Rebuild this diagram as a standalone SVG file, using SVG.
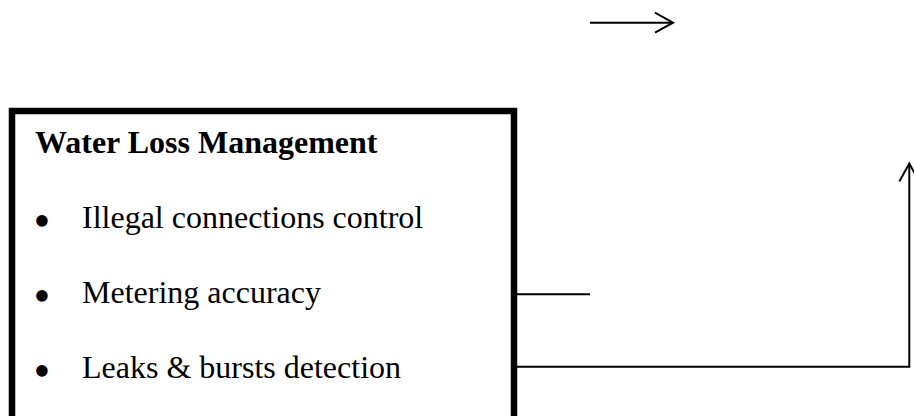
<svg xmlns="http://www.w3.org/2000/svg" width="914" height="416" viewBox="0 0 914 416">
<style>
  .box{fill:#fff;stroke:#000;stroke-width:6.5}
  .h{font-family:"Liberation Serif","Times New Roman",serif;font-size:32px;font-weight:bold;fill:#000}
  .t{font-family:"Liberation Serif","Times New Roman",serif;font-size:32px;fill:#000}
  .b{font-family:"Liberation Serif","Times New Roman",serif;font-size:48px;fill:#000;text-anchor:middle}
  .c{fill:none;stroke:#000;stroke-width:2}
</style>
<defs>
  <marker id="open" markerUnits="userSpaceOnUse" markerWidth="24" markerHeight="24" refX="18" refY="10" orient="auto" overflow="visible">
    <path d="M0,0 L18,10 L0,20" fill="none" stroke="#000" stroke-width="2"/>
  </marker>
</defs>
<rect width="914" height="416" fill="#fff"/>
<g id="node-water-loss">
  <rect class="box" x="12" y="111" width="502" height="310"/>
  <text class="h" x="35" y="153">Water Loss Management</text>
  <text class="b" x="42" y="236.5">•</text>
  <text class="t" x="82" y="228">Illegal connections control</text>
  <text class="b" x="42" y="311.5">•</text>
  <text class="t" x="82" y="303">Metering accuracy</text>
  <text class="b" x="42" y="386.5">•</text>
  <text class="t" x="82" y="378">Leaks &amp; bursts detection</text>
</g>
<g id="connectors">
  <path class="c" d="M590,22.7 H673" marker-end="url(#open)"/>
  <path class="c" d="M517,294.3 H590"/>
  <path class="c" d="M517,366.7 H909.3 V163.5" marker-end="url(#open)"/>
</g>
</svg>
